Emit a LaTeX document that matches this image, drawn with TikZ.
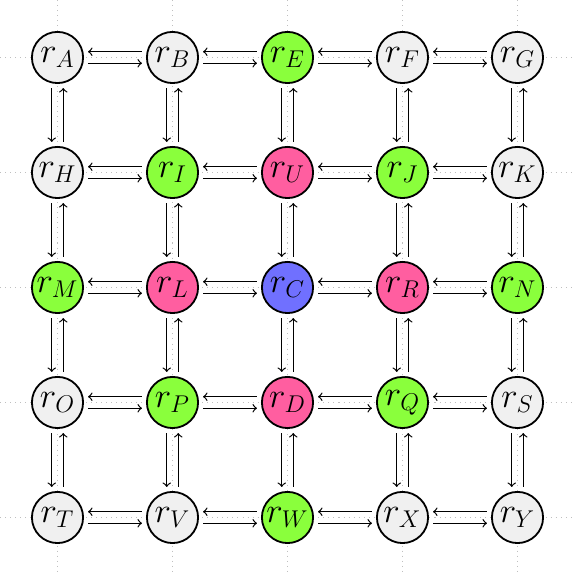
\documentclass[tikz,border=0pt]{standalone}
\usetikzlibrary{calc}
\definecolor{cgray}{RGB}{240,240,240}
\definecolor{cgreen}{RGB}{138,255,60}
\definecolor{cpink}{RGB}{255,94,160}
\definecolor{cblue}{RGB}{112,112,255}
\begin{document}
\begin{tikzpicture}[
  rnode/.style={circle, draw=black, line width=0.9pt, minimum size=0.89cm, inner sep=0pt, font=\LARGE},
  gnode/.style={rnode, fill=cgray},
  grnode/.style={rnode, fill=cgreen},
  pknode/.style={rnode, fill=cpink},
  blnode/.style={rnode, fill=cblue},
  gridline/.style={gray!50, dotted, line width=0.5pt},
  link/.style={->, line width=0.6pt, shorten >=2pt, shorten <=2pt}
]
\useasboundingbox (0,0) rectangle (10.122,10);
% grid
\foreach \k in {0,...,4} {
  \draw[gridline] (0,{9-2*\k}) -- (9.95,{9-2*\k});
  \draw[gridline] ({1+2*\k},10) -- ({1+2*\k},0.05);
}
% nodes
\node[gnode]  (A) at (1,9) {$r_A$};
\node[gnode]  (B) at (3,9) {$r_B$};
\node[grnode] (E) at (5,9) {$r_E$};
\node[gnode]  (F) at (7,9) {$r_F$};
\node[gnode]  (G) at (9,9) {$r_G$};
\node[gnode]  (H) at (1,7) {$r_H$};
\node[grnode] (I) at (3,7) {$r_I$};
\node[pknode] (U) at (5,7) {$r_U$};
\node[grnode] (J) at (7,7) {$r_J$};
\node[gnode]  (K) at (9,7) {$r_K$};
\node[grnode] (M) at (1,5) {$r_M$};
\node[pknode] (L) at (3,5) {$r_L$};
\node[blnode] (C) at (5,5) {$r_C$};
\node[pknode] (R) at (7,5) {$r_R$};
\node[grnode] (N) at (9,5) {$r_N$};
\node[gnode]  (O) at (1,3) {$r_O$};
\node[grnode] (P) at (3,3) {$r_P$};
\node[pknode] (D) at (5,3) {$r_D$};
\node[grnode] (Q) at (7,3) {$r_Q$};
\node[gnode]  (S) at (9,3) {$r_S$};
\node[gnode]  (T) at (1,1) {$r_T$};
\node[gnode]  (V) at (3,1) {$r_V$};
\node[grnode] (W) at (5,1) {$r_W$};
\node[gnode]  (X) at (7,1) {$r_X$};
\node[gnode]  (Y) at (9,1) {$r_Y$};
% horizontal links: upper arrow right-to-left, lower arrow left-to-right
\foreach \a/\b in {A/B,B/E,E/F,F/G,H/I,I/U,U/J,J/K,M/L,L/C,C/R,R/N,O/P,P/D,D/Q,Q/S,T/V,V/W,W/X,X/Y} {
  \draw[link] ([yshift=0.1cm]\b.west) -- ([yshift=0.1cm]\a.east);
  \draw[link] ([yshift=-0.1cm]\a.east) -- ([yshift=-0.1cm]\b.west);
}
% vertical links: left arrow downwards, right arrow upwards
\foreach \a/\b in {A/H,H/M,M/O,O/T,B/I,I/L,L/P,P/V,E/U,U/C,C/D,D/W,F/J,J/R,R/Q,Q/X,G/K,K/N,N/S,S/Y} {
  \draw[link] ([xshift=-0.1cm]\a.south) -- ([xshift=-0.1cm]\b.north);
  \draw[link] ([xshift=0.1cm]\b.north) -- ([xshift=0.1cm]\a.south);
}
\end{tikzpicture}
\end{document}
